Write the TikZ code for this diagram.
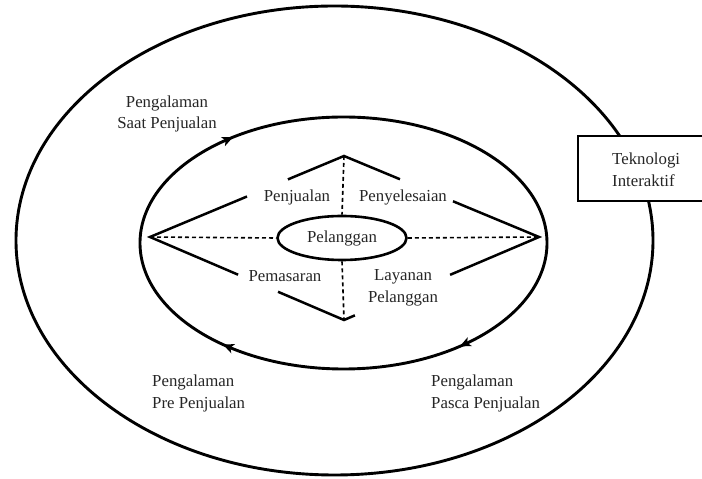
\documentclass[tikz,border=0pt]{standalone}
\usepackage{fontspec}
\setmainfont{Liberation Serif}
\usetikzlibrary{shapes.geometric,calc}

\tikzset{
  ring/.style={draw=black, line width=2.9pt},
  edge/.style={draw=black, line width=2.5pt},
  guide/.style={draw=black, line width=1.6pt, dash pattern=on 4pt off 3pt},
  lbl/.style={text=black!85, font=\fontsize{16.8}{21.5}\selectfont, inner sep=0pt, align=center},
}

% filled arrowhead on the inner ring: #1 name, #2 tip angle, #3 angle behind the tip
\newcommand{\ringhead}[3]{%
  \coordinate (#1tip) at ($(ic)+(#2:203.5 and 126)$);
  \coordinate (#1back) at ($(ic)+(#3:203.5 and 126)$);
  \coordinate (#1base) at ($(#1tip)!11pt!(#1back)$);
  \fill[black] (#1tip) -- ($(#1base)!5pt!90:(#1tip)$) -- ($(#1tip)!8pt!(#1back)$)
    -- ($(#1base)!5pt!-90:(#1tip)$) -- cycle;
}

\begin{document}
\begin{tikzpicture}[x=1pt,y=1pt]
\useasboundingbox (0,0) rectangle (702,479);

% outer ring and inner ring
\coordinate (oc) at (334.5,238.5);
\coordinate (ic) at (343.5,236);
\draw[ring] (oc) ellipse [x radius=318.5, y radius=234.5];
\draw[ring] (ic) ellipse [x radius=203.5, y radius=126];

% direction of travel on the inner ring (clockwise)
\ringhead{ha}{122.9}{128}
\ringhead{hb}{233.7}{239}
\ringhead{hc}{304.9}{310}

% the box sits over the outer ring
\node[draw=black, line width=1.8pt, fill=white, minimum width=130pt, minimum height=65pt,
      anchor=north west, inner sep=0pt] (tek) at (577,344) {};
\node[lbl, align=left, anchor=west] (tektxt) at (612,309) {Teknologi\\Interaktif};

% diamond corners
\coordinate (T) at (344,323);
\coordinate (L) at (150,242);
\coordinate (R) at (539,242);
\coordinate (B) at (344,159);

% centre ellipse
\node[draw=black, line width=2.6pt, ellipse, minimum width=129pt, minimum height=44pt,
      inner sep=0pt, lbl] (pel) at (342,241) {Pelanggan};

% dashed axes
\draw[guide] (L) -- (pel.west);
\draw[guide] (pel.east) -- (R);
\draw[guide] (T) -- (pel.north);
\draw[guide] (pel.south) -- (B);

% broken diamond edges
\draw[edge] ($(T)!0.289!(L)$) -- (T) -- ($(T)!0.287!(R)$);
\draw[edge] ($(T)!0.5!(L)$) -- (L) -- ($(L)!0.454!(B)$);
\draw[edge] ($(T)!0.559!(R)$) -- (R) -- ($(R)!0.456!(B)$);
\draw[edge] ($(B)!0.34!(L)$) -- (B) -- ($(B)!0.056!(R)$);

% quadrant labels
\node[lbl] (pj) at (297,282) {Penjualan};
\node[lbl] (py) at (403,282) {Penyelesaian};
\node[lbl] (pm) at (285,203) {Pemasaran};
\node[lbl] (lp) at (403,191) {Layanan\\Pelanggan};

% stage labels
\node[lbl] (saat) at (167,365) {Pengalaman\\Saat Penjualan};
\node[lbl, align=left, anchor=west] (pre) at (152,85.5) {Pengalaman\\Pre Penjualan};
\node[lbl, align=left, anchor=west] (pasca) at (431,85.5) {Pengalaman\\Pasca Penjualan};
\end{tikzpicture}
\end{document}
